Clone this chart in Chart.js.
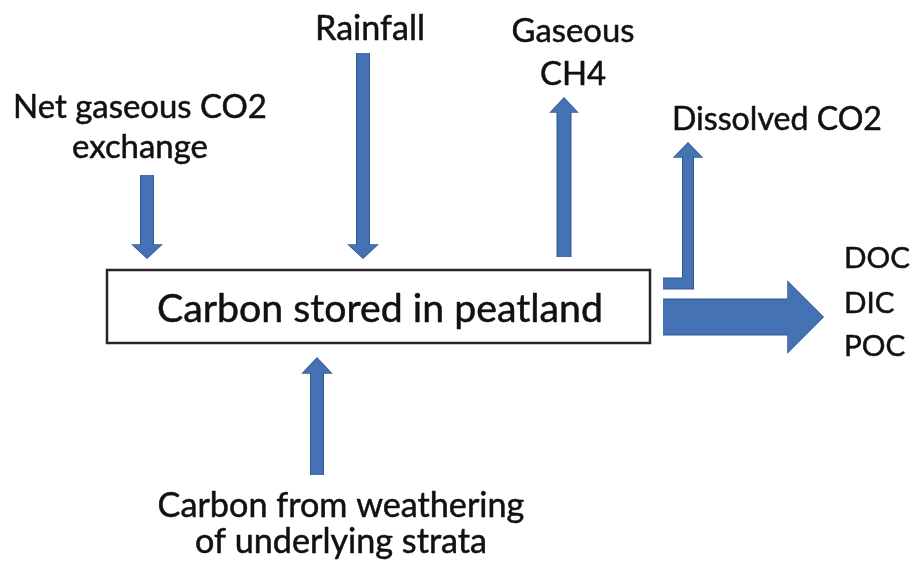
<!DOCTYPE html>
<html>
<head>
<meta charset="utf-8">
<script src="https://cdn.jsdelivr.net/npm/chart.js@4/dist/chart.umd.min.js"></script>
<style>
  html, body { margin: 0; padding: 0; background: #ffffff; }
  #wrap { width: 910px; height: 569px; }
</style>
</head>
<body>
<div id="wrap"><canvas id="c" width="910" height="569"></canvas></div>
<script>
// ---- Diagram content (data) ----
const storeLabel = "Carbon stored in peatland";
const flowNames = [
  "Net gaseous CO2\nexchange",
  "Rainfall",
  "Gaseous\nCH4",
  "Dissolved CO2",
  "DOC\nDIC\nPOC",
  "Carbon from weathering\nof underlying strata"
];
const flowDirection = ["in", "in", "out", "out", "out", "in"];

// ---- Layout (diagram units on hidden 0..910 x 0..569 scales) ----
const boxRect = { x0: 107, y0: 270, x1: 650, y1: 343 };
const arrowLayout = [
  { path: [[147, 175], [147, 245]], w: 12, headLen: 13, headHalf: 14 },
  { path: [[363, 53], [363, 245]], w: 12, headLen: 13, headHalf: 14 },
  { path: [[564, 257], [564, 112]], w: 13, headLen: 14, headHalf: 13 },
  { path: [[663, 283.5], [688, 283.5], [688, 157]], w: 10, headLen: 14, headHalf: 13.5 },
  { path: [[663, 317], [788, 317]], w: 35, headLen: 35, headHalf: 35 },
  { path: [[317, 475], [317, 373]], w: 12, headLen: 15, headHalf: 14 }
];
const labelLayout = [
  { x: 140, y: [118, 158], align: "center", width: 254 },
  { x: 370, y: [40], align: "center", width: 110 },
  { x: 573, y: [42, 85], align: "center", width: 123 },
  { x: 777, y: [130], align: "center", width: 210 },
  { x: 844, y: [268, 313, 356], align: "left", width: 66 },
  { x: 341, y: [517, 553], align: "center", width: 367 }
];
const storeLayout = { x: 380, y: 322, width: 446 };

const FONT = "Lato, 'Open Sans', sans-serif";
const ARROW_FILL = "#4472b4";
const ARROW_EDGE = "#30568e";

const diagramPlugin = {
  id: "diagram",
  afterDatasetsDraw(chart) {
    const ctx = chart.ctx;
    const sx = chart.scales.x, sy = chart.scales.y;
    const px = v => sx.getPixelForValue(v);
    const py = v => sy.getPixelForValue(v);

    ctx.save();
    // Box
    ctx.fillStyle = "#ffffff";
    ctx.strokeStyle = "#262626";
    ctx.lineWidth = 2.5;
    const bx = px(boxRect.x0), by = py(boxRect.y0);
    const bw = px(boxRect.x1) - bx, bh = py(boxRect.y1) - by;
    ctx.fillRect(bx, by, bw, bh);
    ctx.strokeRect(bx, by, bw, bh);

    // Arrows
    arrowLayout.forEach(a => {
      const pts = a.path.map(p => [px(p[0]), py(p[1])]);
      const n = pts.length;
      const [ex, ey] = pts[n - 1];
      const [qx, qy] = pts[n - 2];
      let dx = ex - qx, dy = ey - qy;
      const len = Math.hypot(dx, dy); dx /= len; dy /= len;
      const nx = -dy, ny = dx;
      const tipX = ex + dx * a.headLen, tipY = ey + dy * a.headLen;
      const head = () => {
        ctx.beginPath();
        ctx.moveTo(ex + nx * a.headHalf, ey + ny * a.headHalf);
        ctx.lineTo(tipX, tipY);
        ctx.lineTo(ex - nx * a.headHalf, ey - ny * a.headHalf);
        ctx.closePath();
      };
      const shaft = (extra) => {
        ctx.beginPath();
        ctx.moveTo(pts[0][0], pts[0][1]);
        for (let i = 1; i < n - 1; i++) ctx.lineTo(pts[i][0], pts[i][1]);
        ctx.lineTo(ex + dx * extra, ey + dy * extra);
      };
      ctx.lineJoin = "miter";
      ctx.lineCap = "butt";
      ctx.strokeStyle = ARROW_EDGE;
      ctx.lineWidth = a.w + 2;
      shaft(0);
      ctx.stroke();
      head();
      ctx.lineWidth = 1.5;
      ctx.stroke();
      ctx.fillStyle = ARROW_FILL;
      ctx.fill();
      ctx.strokeStyle = ARROW_FILL;
      ctx.lineWidth = a.w;
      shaft(2);
      ctx.stroke();
    });

    // Text
    ctx.fillStyle = "#111111";
    ctx.strokeStyle = "#111111";
    ctx.lineWidth = 0.5;
    ctx.lineJoin = "round";
    ctx.textBaseline = "alphabetic";
    const fitFont = (lines, width) => {
      ctx.font = "100px " + FONT;
      const m = Math.max(...lines.map(l => ctx.measureText(l).width));
      return 100 * width / m;
    };
    const put = (t, x, y) => { ctx.fillText(t, x, y); ctx.strokeText(t, x, y); };
    flowNames.forEach((name, i) => {
      const L = labelLayout[i];
      const lines = name.split("\n");
      const size = fitFont(lines, L.width);
      ctx.font = size.toFixed(2) + "px " + FONT;
      ctx.textAlign = L.align;
      lines.forEach((line, j) => put(line, px(L.x), py(L.y[j])));
    });
    const s = fitFont([storeLabel], storeLayout.width);
    ctx.font = s.toFixed(2) + "px " + FONT;
    ctx.textAlign = "center";
    put(storeLabel, px(storeLayout.x), py(storeLayout.y));
    ctx.restore();
  }
};

new Chart(document.getElementById("c"), {
  type: "scatter",
  data: {
    datasets: [{
      label: "flows",
      data: flowNames.map((n, i) => ({ x: arrowLayout[i].path[0][0], y: arrowLayout[i].path[0][1] })),
      pointRadius: 0,
      showLine: false
    }]
  },
  options: {
    responsive: false,
    devicePixelRatio: 1,
    animation: false,
    events: [],
    layout: { padding: 0 },
    plugins: { legend: { display: false }, tooltip: { enabled: false }, title: { display: false } },
    scales: {
      x: { type: "linear", min: 0, max: 910, display: false },
      y: { type: "linear", min: 0, max: 569, reverse: true, display: false }
    }
  },
  plugins: [diagramPlugin]
});
</script>
</body>
</html>
